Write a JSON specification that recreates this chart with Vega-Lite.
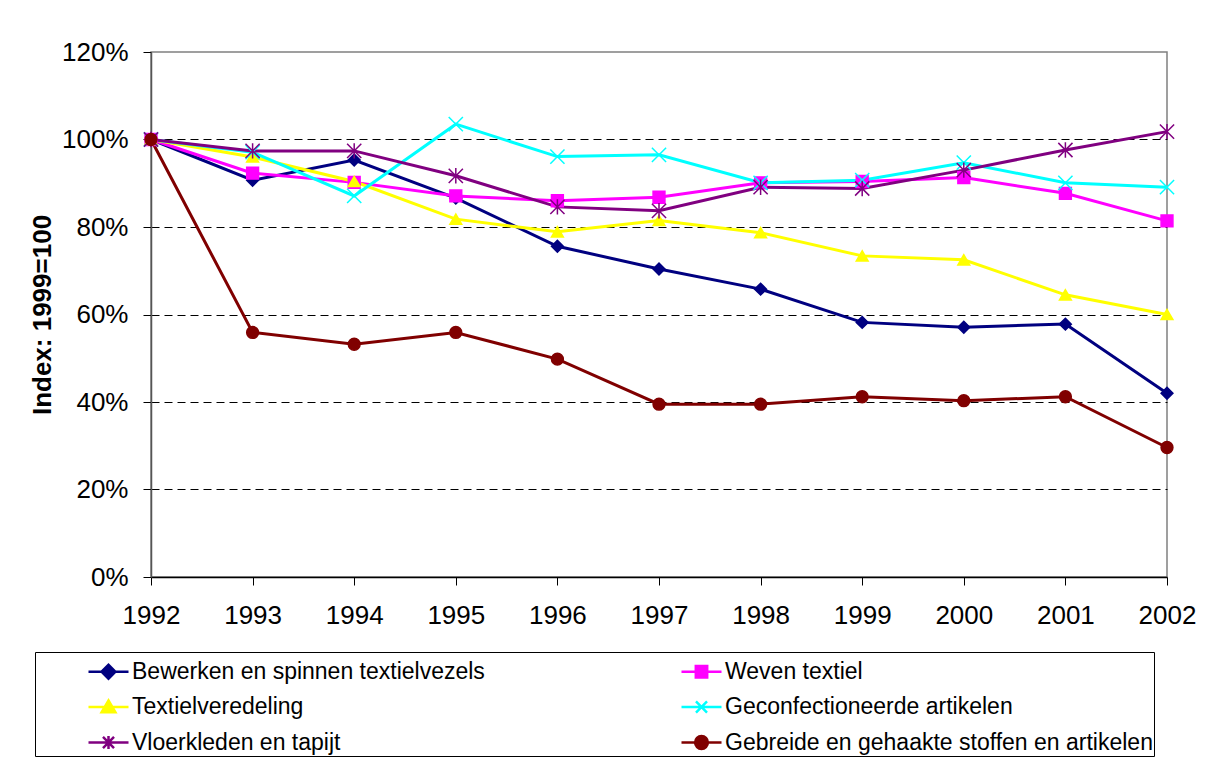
{
  "$schema": "https://vega.github.io/schema/vega-lite/v6.json",
  "width": 1016,
  "height": 525,
  "autosize": {"type": "none"},
  "padding": {"left": 151, "top": 52, "right": 41, "bottom": 183},
  "background": "white",
  "config": {
    "font": "Liberation Sans",
    "view": {"stroke": "#808080", "strokeWidth": 1.5},
    "axis": {"labelFont": "Liberation Sans", "labelColor": "black", "titleColor": "black"}
  },
  "data": {
    "values": [
      {"year": 1992, "series": "Bewerken en spinnen textielvezels", "value": 1.0},
      {"year": 1993, "series": "Bewerken en spinnen textielvezels", "value": 0.907},
      {"year": 1994, "series": "Bewerken en spinnen textielvezels", "value": 0.953},
      {"year": 1995, "series": "Bewerken en spinnen textielvezels", "value": 0.866},
      {"year": 1996, "series": "Bewerken en spinnen textielvezels", "value": 0.756},
      {"year": 1997, "series": "Bewerken en spinnen textielvezels", "value": 0.704},
      {"year": 1998, "series": "Bewerken en spinnen textielvezels", "value": 0.658},
      {"year": 1999, "series": "Bewerken en spinnen textielvezels", "value": 0.582},
      {"year": 2000, "series": "Bewerken en spinnen textielvezels", "value": 0.571},
      {"year": 2001, "series": "Bewerken en spinnen textielvezels", "value": 0.578},
      {"year": 2002, "series": "Bewerken en spinnen textielvezels", "value": 0.42},
      {"year": 1992, "series": "Weven textiel", "value": 1.0},
      {"year": 1993, "series": "Weven textiel", "value": 0.923},
      {"year": 1994, "series": "Weven textiel", "value": 0.902},
      {"year": 1995, "series": "Weven textiel", "value": 0.871},
      {"year": 1996, "series": "Weven textiel", "value": 0.86},
      {"year": 1997, "series": "Weven textiel", "value": 0.868},
      {"year": 1998, "series": "Weven textiel", "value": 0.901},
      {"year": 1999, "series": "Weven textiel", "value": 0.904},
      {"year": 2000, "series": "Weven textiel", "value": 0.913},
      {"year": 2001, "series": "Weven textiel", "value": 0.877},
      {"year": 2002, "series": "Weven textiel", "value": 0.814},
      {"year": 1992, "series": "Textielveredeling", "value": 1.0},
      {"year": 1993, "series": "Textielveredeling", "value": 0.96},
      {"year": 1994, "series": "Textielveredeling", "value": 0.904},
      {"year": 1995, "series": "Textielveredeling", "value": 0.818},
      {"year": 1996, "series": "Textielveredeling", "value": 0.789},
      {"year": 1997, "series": "Textielveredeling", "value": 0.815},
      {"year": 1998, "series": "Textielveredeling", "value": 0.787},
      {"year": 1999, "series": "Textielveredeling", "value": 0.734},
      {"year": 2000, "series": "Textielveredeling", "value": 0.725},
      {"year": 2001, "series": "Textielveredeling", "value": 0.645},
      {"year": 2002, "series": "Textielveredeling", "value": 0.6},
      {"year": 1992, "series": "Geconfectioneerde artikelen", "value": 1.0},
      {"year": 1993, "series": "Geconfectioneerde artikelen", "value": 0.971},
      {"year": 1994, "series": "Geconfectioneerde artikelen", "value": 0.871},
      {"year": 1995, "series": "Geconfectioneerde artikelen", "value": 1.035},
      {"year": 1996, "series": "Geconfectioneerde artikelen", "value": 0.961},
      {"year": 1997, "series": "Geconfectioneerde artikelen", "value": 0.965},
      {"year": 1998, "series": "Geconfectioneerde artikelen", "value": 0.901},
      {"year": 1999, "series": "Geconfectioneerde artikelen", "value": 0.907},
      {"year": 2000, "series": "Geconfectioneerde artikelen", "value": 0.947},
      {"year": 2001, "series": "Geconfectioneerde artikelen", "value": 0.901},
      {"year": 2002, "series": "Geconfectioneerde artikelen", "value": 0.891},
      {"year": 1992, "series": "Vloerkleden en tapijt", "value": 1.0},
      {"year": 1993, "series": "Vloerkleden en tapijt", "value": 0.974},
      {"year": 1994, "series": "Vloerkleden en tapijt", "value": 0.974},
      {"year": 1995, "series": "Vloerkleden en tapijt", "value": 0.917},
      {"year": 1996, "series": "Vloerkleden en tapijt", "value": 0.846},
      {"year": 1997, "series": "Vloerkleden en tapijt", "value": 0.837},
      {"year": 1998, "series": "Vloerkleden en tapijt", "value": 0.891},
      {"year": 1999, "series": "Vloerkleden en tapijt", "value": 0.888},
      {"year": 2000, "series": "Vloerkleden en tapijt", "value": 0.93},
      {"year": 2001, "series": "Vloerkleden en tapijt", "value": 0.976},
      {"year": 2002, "series": "Vloerkleden en tapijt", "value": 1.018},
      {"year": 1992, "series": "Gebreide en gehaakte stoffen en artikelen", "value": 1.0},
      {"year": 1993, "series": "Gebreide en gehaakte stoffen en artikelen", "value": 0.559},
      {"year": 1994, "series": "Gebreide en gehaakte stoffen en artikelen", "value": 0.532},
      {"year": 1995, "series": "Gebreide en gehaakte stoffen en artikelen", "value": 0.559},
      {"year": 1996, "series": "Gebreide en gehaakte stoffen en artikelen", "value": 0.498},
      {"year": 1997, "series": "Gebreide en gehaakte stoffen en artikelen", "value": 0.395},
      {"year": 1998, "series": "Gebreide en gehaakte stoffen en artikelen", "value": 0.395},
      {"year": 1999, "series": "Gebreide en gehaakte stoffen en artikelen", "value": 0.412},
      {"year": 2000, "series": "Gebreide en gehaakte stoffen en artikelen", "value": 0.403},
      {"year": 2001, "series": "Gebreide en gehaakte stoffen en artikelen", "value": 0.412},
      {"year": 2002, "series": "Gebreide en gehaakte stoffen en artikelen", "value": 0.296}
    ]
  },
  "encoding": {
    "x": {
      "field": "year", "type": "ordinal",
      "scale": {"type": "point", "padding": 0},
      "axis": {
        "title": null, "labelAngle": 0, "labelFontSize": 26, "labelPadding": 17,
        "tickSize": 8, "tickColor": "#000", "domainColor": "#000", "domainWidth": 1.5, "grid": false
      }
    },
    "y": {
      "field": "value", "type": "quantitative",
      "scale": {"domain": [0, 1.2], "nice": false},
      "axis": {
        "values": [0, 0.2, 0.4, 0.6, 0.8, 1, 1.2],
        "format": ".0%",
        "title": "Index: 1999=100",
        "titleFont": "Liberation Sans", "titleFontSize": 26, "titleFontWeight": "bold",
        "titleAngle": -90, "titleX": -101, "titleY": 262.5, "titleAlign": "center", "titleBaseline": "alphabetic",
        "labelFontSize": 26, "labelPadding": 15,
        "tickSize": 8, "tickColor": "#000", "domainColor": "#555", "domainWidth": 1.5,
        "grid": true, "gridColor": "#000", "gridDash": [8, 5], "gridWidth": 1,
        "gridOpacity": {"condition": {"test": "datum.value < 0.1 || datum.value > 1.1", "value": 0}, "value": 1}
      }
    }
  },
  "layer": [
    {
      "mark": {"type": "line", "strokeWidth": 3},
      "encoding": {
        "color": {
          "field": "series", "type": "nominal",
          "scale": {
            "domain": ["Bewerken en spinnen textielvezels", "Weven textiel", "Textielveredeling", "Geconfectioneerde artikelen", "Vloerkleden en tapijt", "Gebreide en gehaakte stoffen en artikelen"],
            "range": ["#000080", "#FF00FF", "#FFFF00", "#00FFFF", "#800080", "#800000"]
          },
          "legend": {
            "title": " ",
            "titleFontSize": 2,
            "titleOrient": "left",
            "titlePadding": 54,
            "orient": "none",
            "direction": "horizontal",
            "legendX": -116,
            "legendY": 600,
            "columns": 2,
            "padding": 1,
            "rowPadding": 4.5,
            "columnPadding": 191,
            "symbolSize": 1190,
            "symbolStrokeWidth": 2.5,
            "labelOffset": 5,
            "labelFont": "Liberation Sans",
            "labelFontSize": 23,
            "labelColor": "black",
            "labelLimit": 600,
            "labelExpr": "datum.value === 'Gebreide en gehaakte stoffen en artikelen' ? datum.label + '\u2003\u2003' : datum.label",
            "strokeColor": "black",
            "fillColor": "white",
            "encode": {
              "symbols": {
                "update": {
                  "shape": {"signal": "datum.value === 'Bewerken en spinnen textielvezels' ? 'M-1.16,0H1.16M-0.4,0L0,-0.4L0.4,0L0,0.4Z' : datum.value === 'Weven textiel' ? 'M-1.16,0H1.16M-0.33,-0.33H0.33V0.33H-0.33Z' : datum.value === 'Textielveredeling' ? 'M-1.16,0H1.16M0,-0.38L0.4,0.3H-0.4Z' : datum.value === 'Geconfectioneerde artikelen' ? 'M-1.16,0H1.16M-0.32,-0.32L0.32,0.32M-0.32,0.32L0.32,-0.32' : datum.value === 'Vloerkleden en tapijt' ? 'M-1.16,0H1.16M-0.32,-0.32L0.32,0.32M-0.32,0.32L0.32,-0.32M0,-0.38V0.38' : 'M-1.16,0H1.16M-0.37,0A0.37,0.37,0,1,1,0.37,0A0.37,0.37,0,1,1,-0.37,0Z'"},
                  "fill": {"signal": "scale('color', datum.value)"},
                  "stroke": {"signal": "scale('color', datum.value)"},
                  "strokeWidth": {"value": 2.5},
                  "opacity": {"value": 1}
                }
              }
            }
          }
        }
      }
    },
    {
      "mark": {"type": "point", "filled": true, "size": 140, "opacity": 1, "strokeWidth": 1.5},
      "encoding": {
        "color": {"field": "series", "type": "nominal"},
        "stroke": {
          "field": "series", "type": "nominal",
          "scale": {
            "domain": ["Weven textiel", "Textielveredeling", "Geconfectioneerde artikelen", "Vloerkleden en tapijt", "Gebreide en gehaakte stoffen en artikelen", "Bewerken en spinnen textielvezels"],
            "range": ["#FF00FF", "#FFFF00", "#00FFFF", "#800080", "#800000", "#000080"]
          },
          "legend": null
        },
        "shape": {
          "field": "series", "type": "nominal",
          "scale": {
            "domain": ["Gebreide en gehaakte stoffen en artikelen", "Vloerkleden en tapijt", "Geconfectioneerde artikelen", "Textielveredeling", "Weven textiel", "Bewerken en spinnen textielvezels"],
            "range": ["circle", "M-1.2,-1.2L1.2,1.2M-1.2,1.2L1.2,-1.2M0,-1.3V1.3", "M-1.2,-1.2L1.2,1.2M-1.2,1.2L1.2,-1.2", "triangle-up", "square", "diamond"]
          },
          "legend": null
        }
      }
    }
  ]
}
